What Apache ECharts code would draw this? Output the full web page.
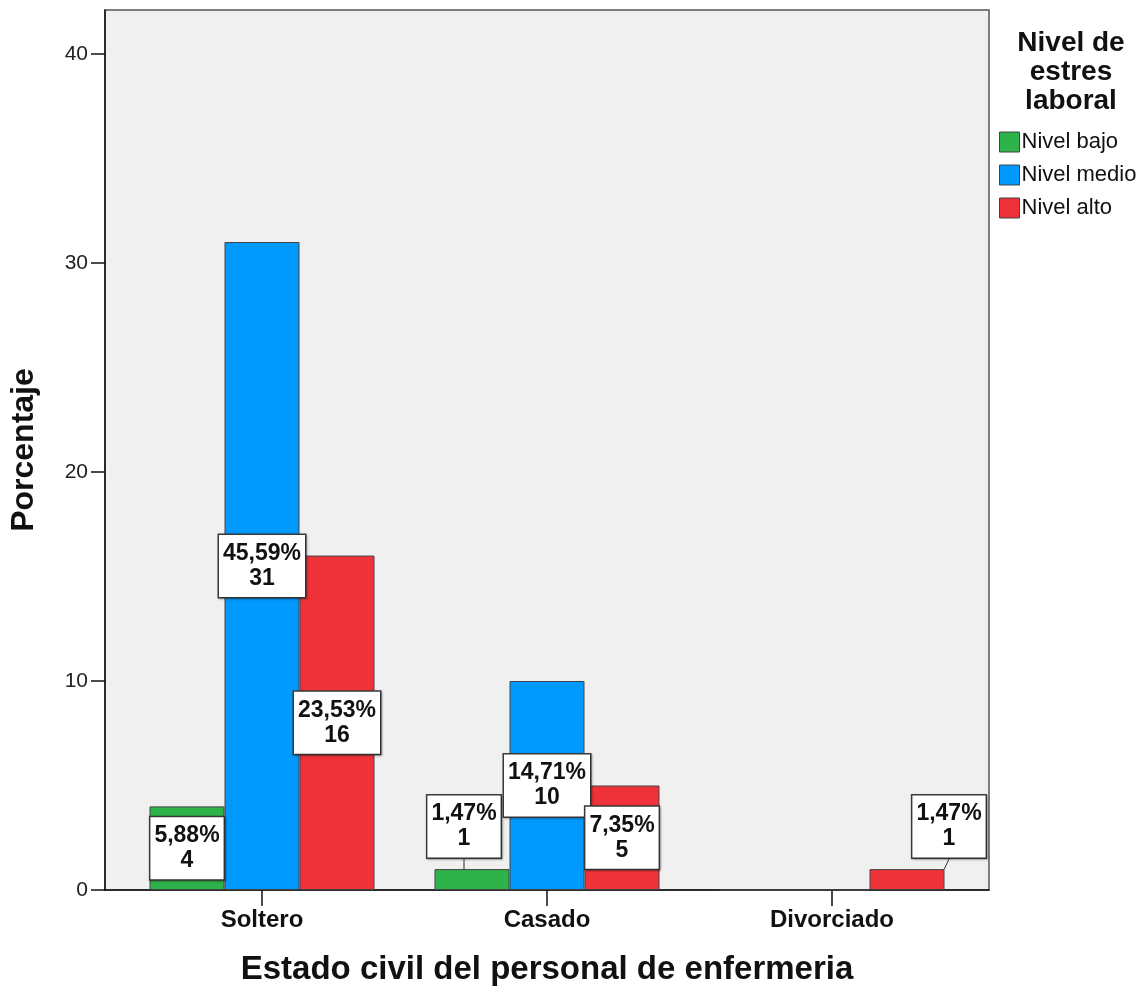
<!DOCTYPE html>
<html>
<head>
<meta charset="utf-8">
<script src="https://cdn.jsdelivr.net/npm/echarts@6/dist/echarts.min.js"></script>
<style>
html,body{margin:0;padding:0;background:#fff;}
#chart{width:1146px;height:992px;}
</style>
</head>
<body>
<div id="chart"></div>
<script>
const categories = ['Soltero', 'Casado', 'Divorciado'];
const seriesNames = ['Nivel bajo', 'Nivel medio', 'Nivel alto'];
const countsBajo = [4, 1, 0];
const countsMedio = [31, 10, 0];
const countsAlto = [16, 5, 1];
const pctBajo = ['5,88%', '1,47%', ''];
const pctMedio = ['45,59%', '14,71%', ''];
const pctAlto = ['23,53%', '7,35%', '1,47%'];
const yTicks = [0, 10, 20, 30, 40];

const colors = ['#2db34a', '#0099fe', '#ef3239'];
const FONT = '"Liberation Sans", Arial, sans-serif';
const Y_MAX = 42.1;

const chart = echarts.init(document.getElementById('chart'), null, {renderer: 'canvas'});

const labelStyle = {
  show: true,
  position: 'inside',
  fontFamily: FONT,
  fontWeight: 'bold',
  fontSize: 23,
  lineHeight: 25,
  color: '#111',
  backgroundColor: '#ffffff',
  borderColor: '#3a3a3a',
  borderWidth: 1.5,
  padding: [6, 4, 6, 4],
  shadowColor: 'rgba(0,0,0,0.25)',
  shadowBlur: 2,
  shadowOffsetX: 1,
  shadowOffsetY: 1
};

function makeSeries(idx, counts, pcts, moved) {
  return {
    name: seriesNames[idx],
    type: 'bar',
    xAxisIndex: 1,
    yAxisIndex: 1,
    barWidth: 75,
    barGap: '0%',
    itemStyle: {color: colors[idx], borderColor: '#444', borderWidth: 1},
    data: counts.map((v, i) => ({
      value: v,
      label: {show: v > 0}
    })),
    label: Object.assign({}, labelStyle, {
      formatter: p => pcts[p.dataIndex] + '\n' + counts[p.dataIndex]
    }),
    labelLine: {show: true, lineStyle: {color: '#333', width: 1}},
    labelLayout: function (params) {
      const m = moved[params.dataIndex];
      if (m) return {dx: m[0], dy: m[1]};
      return {};
    },
    emphasis: {disabled: true},
    animation: false
  };
}

const option = {
  animation: false,
  backgroundColor: '#ffffff',
  grid: [
    {left: 105, top: 10, width: 884, height: 880, show: true,
     backgroundColor: '#f0f0f0', borderColor: '#555', borderWidth: 1.5},
    {left: 119.5, top: 10, width: 855, height: 880}
  ],
  legend: {
    data: seriesNames,
    orient: 'vertical',
    left: 994,
    top: 126,
    itemWidth: 20,
    itemHeight: 20,
    itemGap: 11,
    icon: 'rect',
    itemStyle: {borderColor: '#444', borderWidth: 1},
    textStyle: {fontFamily: FONT, fontSize: 22, lineHeight: 20, color: '#111', padding: [0, 0, 0, -3]},
    selectedMode: false
  },
  title: {
    text: 'Nivel de\nestres\nlaboral',
    left: 1066,
    top: 24,
    textAlign: 'center',
    textStyle: {fontFamily: FONT, fontWeight: 'bold', fontSize: 28, lineHeight: 29, color: '#111'}
  },
  xAxis: [
    {type: 'value', gridIndex: 0, min: 0, max: 1, position: 'bottom',
     axisLine: {show: true, onZero: false, lineStyle: {color: '#111', width: 1.5}},
     axisTick: {show: false}, axisLabel: {show: false}, splitLine: {show: false},
     name: 'Estado civil del personal de enfermeria', nameLocation: 'middle', nameGap: 63,
     nameTextStyle: {fontFamily: FONT, fontWeight: 'bold', fontSize: 33, color: '#111'}},
    {type: 'category', gridIndex: 1, data: categories, position: 'bottom',
     axisLine: {show: false},
     axisTick: {show: true, alignWithLabel: true, length: 16, lineStyle: {color: '#111', width: 1.5}},
     axisLabel: {fontFamily: FONT, fontWeight: 'bold', fontSize: 24, color: '#111', margin: 18},
     splitLine: {show: false}}
  ],
  yAxis: [
    {type: 'value', gridIndex: 0, min: 0, max: Y_MAX, interval: 10,
     axisLine: {show: true, lineStyle: {color: '#111', width: 1.5}},
     axisTick: {show: true, length: 14, lineStyle: {color: '#111', width: 1.5},
                customValues: yTicks},
     axisLabel: {fontFamily: FONT, fontSize: 21, color: '#222', margin: 17,
                 customValues: yTicks},
     splitLine: {show: false},
     name: 'Porcentaje', nameLocation: 'middle', nameGap: 65,
     nameTextStyle: {fontFamily: FONT, fontWeight: 'bold', fontSize: 32, color: '#111'}},
    {type: 'value', gridIndex: 1, min: 0, max: Y_MAX, show: false, splitLine: {show: false}}
  ],
  series: [
    makeSeries(0, countsBajo, pctBajo, {1: [-8, -53]}),
    makeSeries(1, countsMedio, pctMedio, {}),
    makeSeries(2, countsAlto, pctAlto, {2: [42, -53]})
  ]
};

chart.setOption(option);
</script>
</body>
</html>
